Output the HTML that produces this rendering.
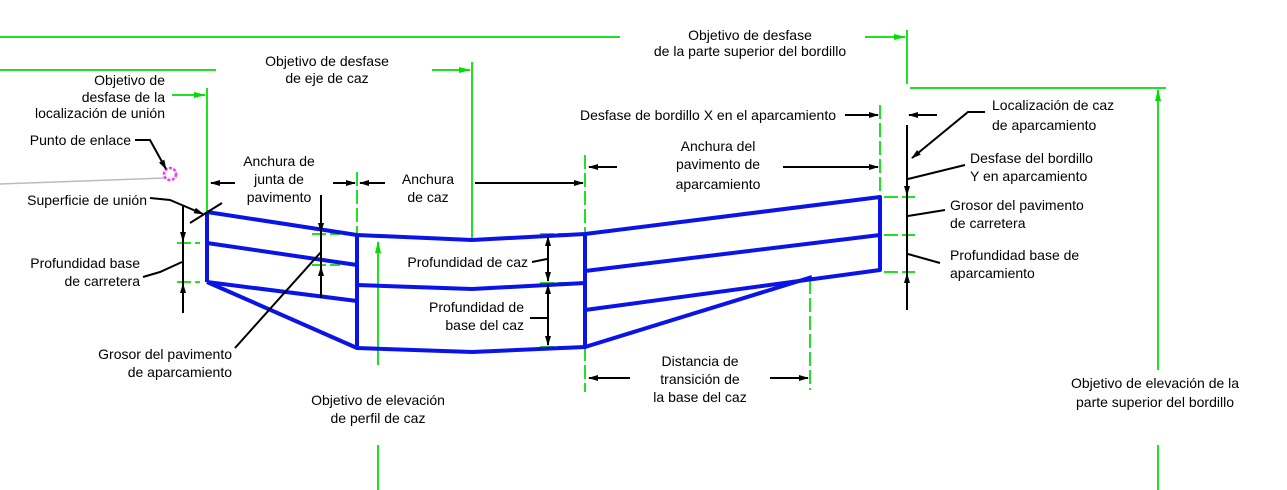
<!DOCTYPE html>
<html><head><meta charset="utf-8"><style>
html,body{margin:0;padding:0;background:#fff;}
svg{display:block;}
text{font-family:"Liberation Sans",sans-serif;font-size:14px;fill:#000;}
</style></head><body>
<svg width="1287" height="490" viewBox="0 0 1287 490" xmlns="http://www.w3.org/2000/svg">
<defs>
<marker id="ab" markerWidth="10" markerHeight="8" refX="9" refY="4" orient="auto" markerUnits="userSpaceOnUse"><path d="M0,1 L10,4 L0,7 z" fill="#000"/></marker>
<marker id="ag" markerWidth="12" markerHeight="8" refX="11" refY="4" orient="auto" markerUnits="userSpaceOnUse"><path d="M0,1 L12,4 L0,7 z" fill="#00e000"/></marker>
</defs>
<g stroke="#22e022" stroke-width="2" fill="none">
<line x1="0" y1="37" x2="620" y2="37"/>
<line x1="865" y1="37" x2="905" y2="37" marker-end="url(#ag)"/>
<line x1="907" y1="30" x2="907" y2="84"/>
<line x1="910" y1="88" x2="1166" y2="88"/>
<line x1="1158" y1="370" x2="1158" y2="90" marker-end="url(#ag)"/>
<line x1="1158" y1="445" x2="1158" y2="490"/>
<line x1="0" y1="70" x2="216" y2="70"/>
<line x1="172" y1="95" x2="205" y2="95" marker-end="url(#ag)"/>
<line x1="207" y1="88" x2="207" y2="212"/>
<line x1="432" y1="70" x2="470" y2="70" marker-end="url(#ag)"/>
<line x1="472" y1="62" x2="472" y2="240"/>
<line x1="378" y1="365" x2="378" y2="242" marker-end="url(#ag)"/>
<line x1="378" y1="445" x2="378" y2="490"/>
<g stroke-dasharray="14,4">
<line x1="357" y1="172" x2="357" y2="235"/>
<line x1="585" y1="155" x2="585" y2="235"/>
<line x1="585" y1="347" x2="585" y2="392"/>
<line x1="880" y1="105" x2="880" y2="197"/>
<line x1="810" y1="280" x2="810" y2="390"/>
<line x1="177" y1="243" x2="200" y2="243"/>
<line x1="177" y1="282" x2="200" y2="282"/>
<line x1="312" y1="234" x2="340" y2="234"/>
<line x1="312" y1="265" x2="340" y2="265"/>
<line x1="540" y1="234" x2="580" y2="234"/>
<line x1="540" y1="283" x2="580" y2="283"/>
<line x1="540" y1="347" x2="580" y2="347"/>
<line x1="884" y1="197" x2="915" y2="197"/>
<line x1="884" y1="235" x2="915" y2="235"/>
<line x1="884" y1="272" x2="915" y2="272"/>
</g>
</g>
<line x1="0" y1="184" x2="165" y2="178" stroke="#bbb" stroke-width="1.5"/>
<circle cx="170" cy="174" r="6" fill="none" stroke="#ff33ff" stroke-width="2.5" stroke-dasharray="3,1.5"/>
<g stroke="#0a14e6" stroke-width="4" fill="none" stroke-linejoin="round">
<polyline points="207,212 357,235 472,240 585,234 880,197 880,270 585,310"/>
<line x1="207" y1="212" x2="207" y2="282"/>
<line x1="207" y1="243" x2="357" y2="265"/>
<line x1="207" y1="282" x2="357" y2="301"/>
<polyline points="207,282 357,348 472,352 585,347 812,277"/>
<line x1="357" y1="235" x2="357" y2="348"/>
<line x1="585" y1="234" x2="585" y2="347"/>
<polyline points="357,285 472,289 585,283"/>
<line x1="585" y1="271" x2="880" y2="235"/>
</g>
<g stroke="#000" stroke-width="2" fill="none">
<line x1="235" y1="183" x2="211" y2="183" marker-end="url(#ab)"/>
<line x1="333" y1="183" x2="355" y2="183" marker-end="url(#ab)"/>
<line x1="385" y1="183" x2="360" y2="183" marker-end="url(#ab)"/>
<line x1="475" y1="183" x2="583" y2="183" marker-end="url(#ab)"/>
<line x1="617" y1="167" x2="589" y2="167" marker-end="url(#ab)"/>
<line x1="783" y1="167" x2="878" y2="167" marker-end="url(#ab)"/>
<line x1="845" y1="115" x2="878" y2="115" marker-end="url(#ab)"/>
<line x1="937" y1="115" x2="909" y2="115" marker-end="url(#ab)"/>
<line x1="630" y1="378" x2="589" y2="378" marker-end="url(#ab)"/>
<line x1="770" y1="378" x2="808" y2="378" marker-end="url(#ab)"/>
<line x1="907" y1="125" x2="907" y2="310"/>
<line x1="907" y1="140" x2="907" y2="195" marker-end="url(#ab)"/>
<line x1="907" y1="300" x2="907" y2="274" marker-end="url(#ab)"/>
<line x1="183" y1="205" x2="183" y2="313"/>
<line x1="183" y1="215" x2="183" y2="241" marker-end="url(#ab)"/>
<line x1="183" y1="305" x2="183" y2="284" marker-end="url(#ab)"/>
<line x1="321" y1="195" x2="321" y2="298"/>
<line x1="321" y1="205" x2="321" y2="232" marker-end="url(#ab)"/>
<line x1="321" y1="290" x2="321" y2="267" marker-end="url(#ab)"/>
<line x1="548" y1="258" x2="548" y2="237" marker-end="url(#ab)"/>
<line x1="548" y1="258" x2="548" y2="281" marker-end="url(#ab)"/>
<line x1="548" y1="315" x2="548" y2="285" marker-end="url(#ab)"/>
<line x1="548" y1="315" x2="548" y2="345" marker-end="url(#ab)"/>
<polyline points="135,140 150,140 166,169" marker-end="url(#ab)"/>
<polyline points="150,198 170,200 203,214" marker-end="url(#ab)"/>
<line x1="190" y1="223" x2="222" y2="203"/>
<polyline points="143,277 160,272 182,262"/>
<polyline points="235,348 321,252"/>
<polyline points="532,262 547,259"/>
<polyline points="530,318 547,318"/>
<polyline points="985,112 968,112 912,158" marker-end="url(#ab)"/>
<polyline points="965,165 908,179"/>
<polyline points="945,210 908,216"/>
<polyline points="940,263 908,254"/>
</g>
<g text-anchor="end">
<text x="165" y="85">Objetivo de</text>
<text x="165" y="102">desfase de la</text>
<text x="165" y="118">localización de unión</text>
<text x="131" y="145">Punto de enlace</text>
<text x="147" y="205">Superficie de unión</text>
<text x="140" y="268">Profundidad base</text>
<text x="140" y="286">de carretera</text>
<text x="232" y="359">Grosor del pavimento</text>
<text x="232" y="377">de aparcamiento</text>
<text x="528" y="267">Profundidad de caz</text>
<text x="524" y="312">Profundidad de</text>
<text x="524" y="330">base del caz</text>
<text x="836" y="120">Desfase de bordillo X en el aparcamiento</text>
</g>
<g text-anchor="middle">
<text x="750" y="40">Objetivo de desfase</text>
<text x="750" y="56">de la parte superior del bordillo</text>
<text x="327" y="66">Objetivo de desfase</text>
<text x="327" y="83">de eje de caz</text>
<text x="279" y="166">Anchura de</text>
<text x="279" y="184">junta de</text>
<text x="279" y="202">pavimento</text>
<text x="428" y="184">Anchura</text>
<text x="428" y="202">de caz</text>
<text x="718" y="151">Anchura del</text>
<text x="718" y="169">pavimento de</text>
<text x="718" y="189">aparcamiento</text>
<text x="378" y="405">Objetivo de elevación</text>
<text x="378" y="423">de perfil de caz</text>
<text x="700" y="366">Distancia de</text>
<text x="700" y="384">transición de</text>
<text x="700" y="402">la base del caz</text>
<text x="1155" y="388">Objetivo de elevación de la</text>
<text x="1155" y="407">parte superior del bordillo</text>
</g>
<text x="992" y="110">Localización de caz</text>
<text x="992" y="130">de aparcamiento</text>
<text x="970" y="163">Desfase del bordillo</text>
<text x="970" y="181">Y en aparcamiento</text>
<text x="950" y="210">Grosor del pavimento</text>
<text x="950" y="228">de carretera</text>
<text x="950" y="260">Profundidad base de</text>
<text x="950" y="278">aparcamiento</text>
</svg>
</body></html>
